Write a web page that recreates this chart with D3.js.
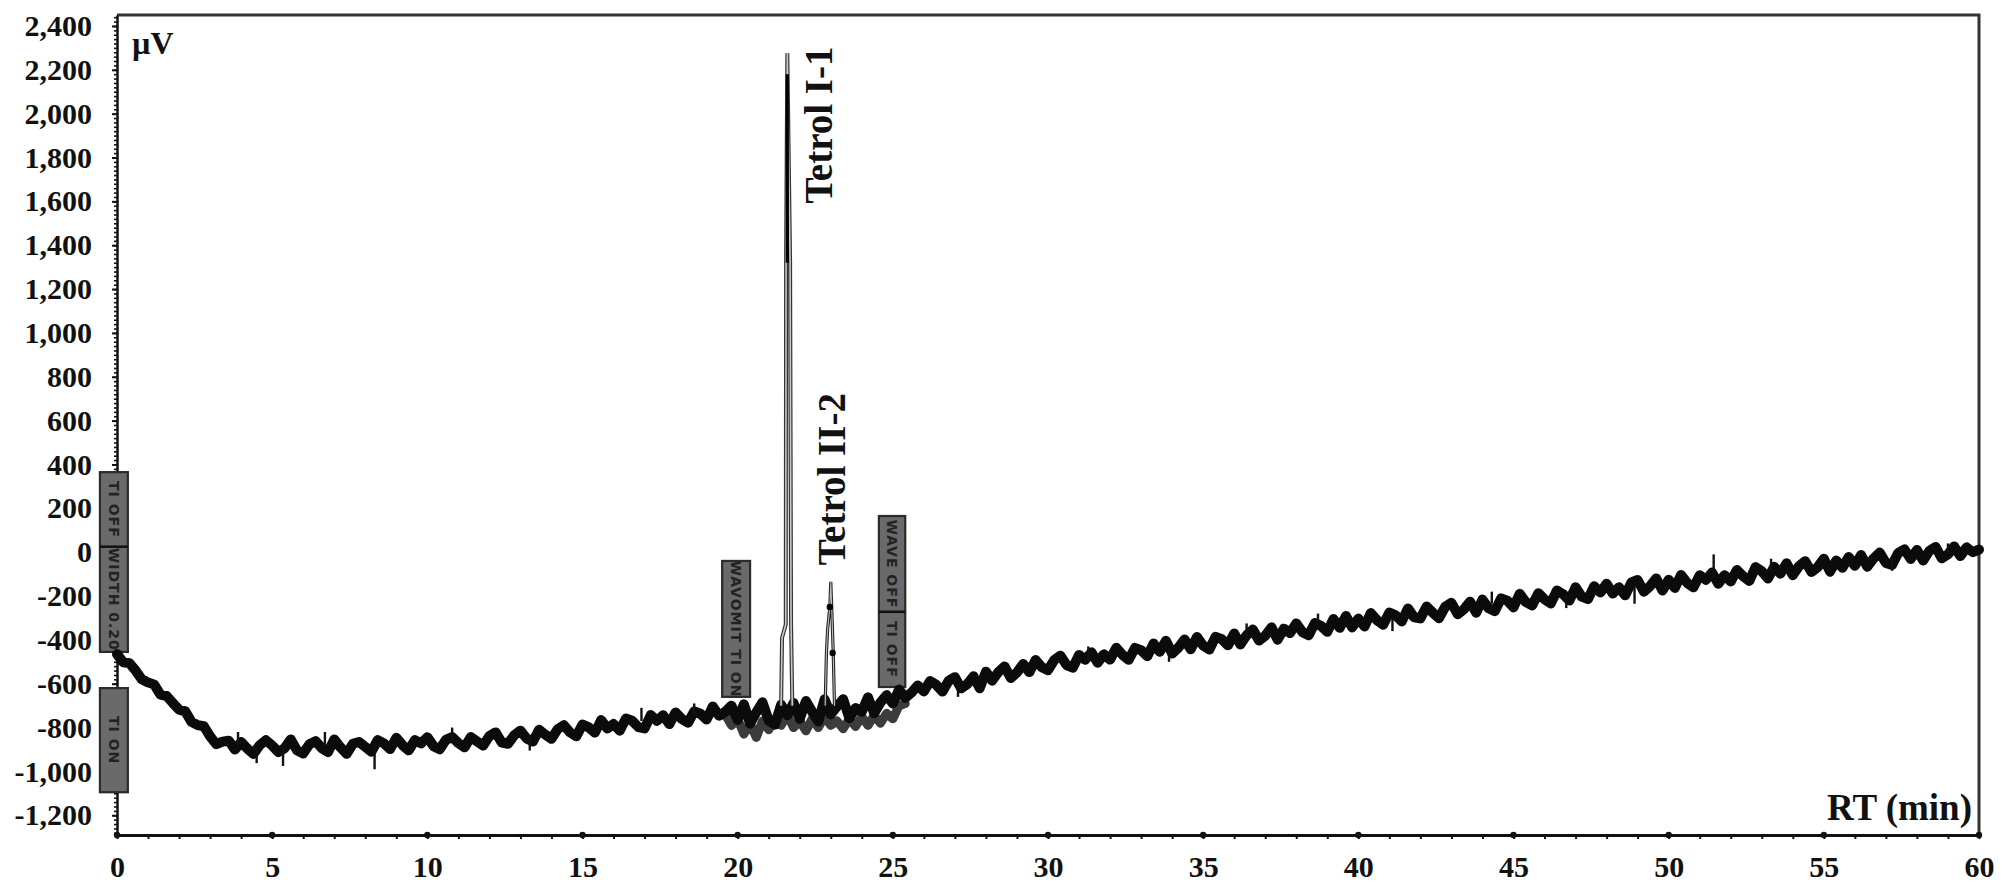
<!DOCTYPE html>
<html><head><meta charset="utf-8">
<script src="https://cdn.jsdelivr.net/npm/d3@7"></script>
<style>html,body{margin:0;padding:0;background:#fff;} svg{display:block;}</style>
</head><body><svg id="c" width="2008" height="890"></svg>
<script>
// ---------------- DATA ----------------
const traceStart = 0;      // min
const traceStep = 0.2;     // min between samples
const traceValues = [
  -465, -502, -506, -540, -580, -594, -604, -650, -656, -688,
  -718, -726, -774, -789, -794, -840, -876, -864, -860, -900,
  -866, -896, -920, -880, -858, -882, -912, -894, -854, -904,
  -918, -876, -862, -894, -912, -854, -890, -920, -874, -866,
  -888, -910, -857, -872, -898, -847, -880, -904, -857, -872,
  -844, -885, -899, -856, -843, -871, -890, -843, -863, -882,
  -839, -822, -869, -874, -835, -814, -850, -864, -810, -832,
  -851, -807, -789, -822, -840, -786, -799, -823, -766, -804,
  -784, -814, -759, -769, -798, -804, -743, -769, -744, -784,
  -731, -761, -778, -726, -737, -763, -704, -746, -728, -700,
  -765, -694, -782, -731, -685, -768, -787, -696, -744, -688,
  -760, -679, -728, -772, -671, -740, -704, -671, -757, -711,
  -728, -662, -735, -686, -652, -690, -627, -664, -641, -608,
  -635, -588, -605, -636, -587, -570, -621, -602, -566, -621,
  -545, -586, -547, -521, -574, -549, -510, -547, -492, -525,
  -538, -492, -472, -515, -527, -469, -491, -457, -504, -466,
  -490, -436, -468, -491, -437, -447, -475, -417, -454, -404,
  -462, -436, -398, -443, -387, -426, -444, -386, -397, -425,
  -371, -421, -379, -353, -403, -381, -343, -399, -349, -369,
  -325, -365, -379, -323, -337, -363, -305, -345, -291, -343,
  -303, -339, -278, -310, -331, -275, -288, -316, -257, -297,
  -302, -248, -276, -301, -249, -231, -283, -261, -226, -276,
  -216, -256, -269, -211, -221, -252, -190, -228, -243, -187,
  -215, -234, -175, -192, -221, -160, -203, -214, -155, -184,
  -144, -189, -160, -197, -138, -127, -180, -155, -120, -175,
  -126, -163, -104, -141, -160, -105, -126, -93, -144, -105,
  -134, -81, -110, -131, -68, -87, -120, -67, -98, -51,
  -105, -64, -41, -90, -69, -30, -89, -38, -71, -22,
  -62, -13, -66, -29, -2, -49, -58, -3, 12, -31,
  10, -38, 6, 24, -28, -10, 26, -18, 22, 0,
  12
];

// second (dark grey) trace visible under the event window 19.6–25.4 min
const greyStart = 19.6;
const greyStep = 0.2;
const greyValues = [
  -740, -790, -760, -830, -780, -845, -770, -810, -760, -790,
  -740, -800, -770, -815, -760, -800, -750, -790, -770, -805,
  -760, -795, -750, -790, -745, -780, -735, -760, -700, -690
];

// isolated narrow noise spikes
const spikeTimes = [3.9, 4.5, 5.35, 6.7, 8.3, 10.8, 13.3, 16.9, 18.6, 27.1, 31.3, 33.9,
                    36.4, 38.7, 41.1, 44.3, 46.7, 48.9, 51.45, 53.3, 57.2, 59.0];
const spikeBase  = [-880, -890, -890, -885, -880, -865, -835, -770, -745, -600, -490, -440,
                    -385, -335, -300, -235, -195, -150, -118, -90, -25, -5];
const spikeTip   = [-820, -962, -975, -820, -990, -800, -905, -710, -690, -660, -430, -500,
                    -325, -280, -360, -180, -255, -235, -10, -30, -85, 40];

// Tetrol I-1 peak (outline trace) and its dark core
const peak1Times  = [21.40, 21.43, 21.55, 21.56, 21.60, 21.69, 21.72, 21.76];
const peak1Values = [-700, -390, -330, 1320, 2275, 1320, -320, -700];
const peak1CoreTimes  = [21.60, 21.60];
const peak1CoreValues = [1320, 2180];

// Tetrol II-2 peak
const peak2Times  = [22.82, 22.86, 22.90, 22.97, 23.00, 23.03, 23.08, 23.12];
const peak2Values = [-700, -460, -350, -250, -135, -250, -460, -700];
const peak2MarkTimes  = [22.97, 23.06];
const peak2MarkValues = [-250, -460];

const peakNames = ["Tetrol I-1", "Tetrol II-2"];
const peakNameTimes = [23.04, 23.46];
const peakNameValues = [1590, -60];

// integration event markers (grey boxes)
const eventStart   = [-0.55, -0.55, 19.50, 24.55];
const eventEnd     = [0.35, 0.35, 20.40, 25.40];
const eventTop     = [365, -620, -40, 165];
const eventBottom  = [-455, -1095, -660, -615];
const eventDivider = [25, null, null, -272];
const eventUpperText = ["TI OFF", "", "", "WAVE OFF"];
const eventLowerText = ["WIDTH 0.20", "TI ON", "WAVOMIT TI ON", "TI OFF"];

const yTickValues = [-1200,-1000,-800,-600,-400,-200,0,200,400,600,800,1000,1200,1400,1600,1800,2000,2200,2400];
const xTickValues = [0,5,10,15,20,25,30,35,40,45,50,55,60];
const yLabel = "\u00b5V";
const xLabel = "RT (min)";

// ---------------- DRAW ----------------
const svg = d3.select("#c");
const x = d3.scaleLinear().domain([0, 60]).range([117, 1979]);
const y = d3.scaleLinear().domain([-1290, 2450]).range([835, 15]);
const serif = '"Liberation Serif","Times New Roman",serif';
const fmt = d => d3.format(",")(d).replace("\u2212", "-");
const ink = "#111";

// frame (top & right)
svg.append("path")
  .attr("d", `M${x(0)},${y(2450)}H${x(60)}V${y(-1290)}`)
  .attr("fill", "none").attr("stroke", "#333").attr("stroke-width", 3);

// y axis: minor ticks
const yMinor = d3.range(-1280, 2441, 20);
svg.append("g").attr("transform", `translate(${x(0)},0)`)
  .call(d3.axisLeft(y).tickValues(yMinor).tickSize(3).tickSizeOuter(0).tickFormat(""))
  .call(g => g.selectAll("line").attr("stroke", ink).attr("stroke-width", 1.6))
  .call(g => g.select(".domain").attr("stroke", ink).attr("stroke-width", 2.5));
// y axis: major ticks + labels
svg.append("g").attr("transform", `translate(${x(0)},0)`)
  .call(d3.axisLeft(y).tickValues(yTickValues).tickSize(5).tickSizeOuter(0).tickPadding(20).tickFormat(fmt))
  .call(g => g.select(".domain").remove())
  .call(g => g.selectAll("line").attr("stroke", ink).attr("stroke-width", 2))
  .call(g => g.selectAll("text").attr("font-family", serif).attr("font-weight", "bold")
      .attr("font-size", 30).attr("fill", ink));

// x axis
const xMinor = d3.range(0, 61, 1);
svg.append("g").attr("transform", `translate(0,${y(-1290)})`)
  .call(d3.axisBottom(x).tickValues(xMinor).tickSize(4).tickSizeOuter(0).tickFormat(""))
  .call(g => g.selectAll("line").attr("stroke", ink).attr("stroke-width", 2))
  .call(g => g.select(".domain").attr("stroke", ink).attr("stroke-width", 3));
svg.append("g").attr("transform", `translate(0,${y(-1290)})`)
  .call(d3.axisBottom(x).tickValues(xTickValues).tickSize(0).tickPadding(21).tickFormat(d3.format("d")))
  .call(g => g.select(".domain").remove())
  .call(g => g.selectAll("text").attr("font-family", serif).attr("font-weight", "bold")
      .attr("font-size", 30).attr("fill", ink));
svg.append("g").selectAll("circle").data(xTickValues).join("circle")
  .attr("cx", d => x(d)).attr("cy", y(-1290)).attr("r", 3.2).attr("fill", ink);

// event boxes
const ev = svg.append("g");
eventStart.forEach((s, i) => {
  const x0 = x(s), x1 = x(eventEnd[i]);
  const y0 = y(eventTop[i]), y1 = y(eventBottom[i]);
  ev.append("rect").attr("x", x0).attr("y", y0).attr("width", x1 - x0).attr("height", y1 - y0)
    .attr("fill", "#6a6a6a").attr("stroke", "#2b2b2b").attr("stroke-width", 2.2);
  const cx = (x0 + x1) / 2;
  const segs = [];
  if (eventDivider[i] !== null) {
    const yd = y(eventDivider[i]);
    ev.append("line").attr("x1", x0).attr("x2", x1).attr("y1", yd).attr("y2", yd)
      .attr("stroke", "#111").attr("stroke-width", 2.5);
    segs.push([y0, yd, eventUpperText[i]]);
    segs.push([yd, y1, eventLowerText[i]]);
  } else {
    segs.push([y0, y1, eventLowerText[i]]);
  }
  segs.forEach(([a, b, t]) => {
    if (!t) return;
    const cy = (a + b) / 2;
    ev.append("text").attr("x", cx).attr("y", cy)
      .attr("transform", `rotate(90,${cx},${cy})`)
      .attr("text-anchor", "middle").attr("dominant-baseline", "central")
      .attr("font-family", '"DejaVu Sans",sans-serif').attr("font-size", 14)
      .attr("font-weight", "bold").attr("letter-spacing", 1)
      .attr("fill", "#222").text(t);
  });
});

const line = d3.line().x(d => x(d[0])).y(d => y(d[1]));

// grey trace
const grey = greyValues.map((v, i) => [greyStart + i * greyStep, v]);
svg.append("path").datum(grey).attr("d", line)
  .attr("fill", "none").attr("stroke", "#3c3c3c").attr("stroke-width", 9)
  .attr("stroke-linejoin", "round").attr("stroke-linecap", "round");

// main trace
const trace = traceValues.map((v, i) => [traceStart + i * traceStep, v]);
svg.append("path").datum(trace).attr("d", line)
  .attr("fill", "none").attr("stroke", "#0b0b0b").attr("stroke-width", 10)
  .attr("stroke-linejoin", "round").attr("stroke-linecap", "round");

// narrow spikes
svg.append("g").selectAll("line").data(spikeTimes).join("line")
  .attr("x1", d => x(d)).attr("x2", d => x(d))
  .attr("y1", (d, i) => y(spikeBase[i])).attr("y2", (d, i) => y(spikeTip[i]))
  .attr("stroke", "#111").attr("stroke-width", 2.4);

// peak 1
const p1 = peak1Times.map((t, i) => [t, peak1Values[i]]);
svg.append("path").datum(p1).attr("d", line).attr("fill", "none")
  .attr("stroke", "#333").attr("stroke-width", 4);
svg.append("path").datum(p1).attr("d", line).attr("fill", "none")
  .attr("stroke", "#c8c8c8").attr("stroke-width", 1.6);
const p1c = peak1CoreTimes.map((t, i) => [t, peak1CoreValues[i]]);
svg.append("path").datum(p1c).attr("d", line).attr("fill", "none")
  .attr("stroke", "#000").attr("stroke-width", 3.2);

// peak 2
const p2 = peak2Times.map((t, i) => [t, peak2Values[i]]);
svg.append("path").datum(p2).attr("d", line).attr("fill", "none")
  .attr("stroke", "#222").attr("stroke-width", 3.2);
svg.append("path").datum(p2).attr("d", line).attr("fill", "none")
  .attr("stroke", "#bdbdbd").attr("stroke-width", 1.1);
svg.append("g").selectAll("circle").data(peak2MarkTimes).join("circle")
  .attr("cx", d => x(d)).attr("cy", (d, i) => y(peak2MarkValues[i])).attr("r", 3.2).attr("fill", "#000");

// peak names
peakNames.forEach((n, i) => {
  const px = x(peakNameTimes[i]), py = y(peakNameValues[i]);
  svg.append("text").attr("x", px).attr("y", py)
    .attr("transform", `rotate(-90,${px},${py})`)
    .attr("font-family", serif).attr("font-weight", "bold").attr("font-size", 39)
    .attr("fill", ink).text(n);
});

// axis unit labels
svg.append("text").attr("x", x(0) + 15).attr("y", y(2450) + 39)
  .attr("font-family", serif).attr("font-weight", "bold").attr("font-size", 32)
  .attr("fill", ink).text(yLabel);
svg.append("text").attr("x", x(60) - 7).attr("y", y(-1290) - 15)
  .attr("text-anchor", "end")
  .attr("font-family", serif).attr("font-weight", "bold").attr("font-size", 37)
  .attr("fill", ink).text(xLabel);
</script>
</body></html>
